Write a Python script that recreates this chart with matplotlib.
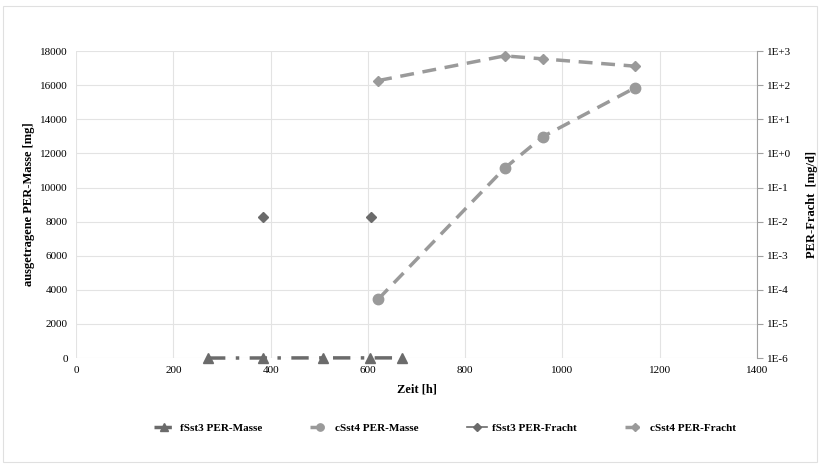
import matplotlib.pyplot as plt
import matplotlib.patches as patches
import numpy as np

plt.rcParams['font.family'] = ['Liberation Serif', 'DejaVu Serif']

# Data
zeit_fSst3_masse = [271, 384, 508, 605, 671]
masse_fSst3 = [0, 5, 10, 10, 10]

zeit_cSst4 = [621, 881, 960, 1150]
masse_cSst4 = [3450, 11130, 12990, 15860]

zeit_fSst3_fracht = [384, 500, 606]
fracht_fSst3 = [0.014, np.nan, 0.014]

fracht_cSst4 = [137, 727, 593, 362]

dark = '#6b6b6b'
light = '#9a9a9a'
grid_c = '#e3e3e3'

fig = plt.figure(figsize=(8.2, 4.65), dpi=100)
ax = fig.add_axes([0.093, 0.230, 0.830, 0.660])
ax2 = ax.twinx()

# border around the chart area
fig.patches.append(patches.Rectangle((0.004, 0.006), 0.992, 0.982, transform=fig.transFigure,
                                     fill=False, edgecolor='#e0e0e0', linewidth=0.8))

ax.plot(zeit_fSst3_masse, masse_fSst3, color=dark, linestyle=(0, (5, 3, 1, 3)), linewidth=2.5,
        marker='^', markersize=7.5, label='fSst3 PER-Masse', zorder=3, clip_on=False)
ax.plot(zeit_cSst4, masse_cSst4, color=light, linestyle=(0, (4, 2.5)), linewidth=2.5,
        marker='o', markersize=7.5, label='cSst4 PER-Masse', zorder=3, clip_on=False)
ax2.plot(zeit_fSst3_fracht, fracht_fSst3, color=dark, linestyle='-', linewidth=1.2,
         marker='D', markersize=5.5, label='fSst3 PER-Fracht', clip_on=False)
ax2.plot(zeit_cSst4, fracht_cSst4, color=light, linestyle=(0, (4, 2.5)), linewidth=2.5,
         marker='D', markersize=5.5, label='cSst4 PER-Fracht', clip_on=False)

ax.set_xlim(0, 1400)
ax.set_ylim(0, 18000)
ax.set_xticks(np.arange(0, 1401, 200))
ax.set_yticks(np.arange(0, 18001, 2000))
ax.grid(color=grid_c, linewidth=0.8)
ax.set_axisbelow(True)
for s in ax.spines.values():
    s.set_visible(False)
ax.tick_params(axis='both', length=0, labelsize=8, pad=6)

ax2.set_yscale('log')
ax2.set_ylim(1e-6, 1e3)
ticks = [10.0 ** k for k in range(-6, 4)]
ax2.set_yticks(ticks)
ax2.set_yticklabels(['1E-6', '1E-5', '1E-4', '1E-3', '1E-2', '1E-1', '1E+0', '1E+1', '1E+2', '1E+3'])
ax2.minorticks_off()
for name, s in ax2.spines.items():
    s.set_visible(name == 'right')
ax2.spines['right'].set_color('#a0a0a0')
ax2.tick_params(axis='y', length=4, color='#a0a0a0', labelsize=8, pad=3)

ax.set_xlabel('Zeit [h]', fontsize=9, fontweight='bold', labelpad=6)
ax.set_ylabel('ausgetragene PER-Masse [mg]', fontsize=9, fontweight='bold', labelpad=4)
ax2.set_ylabel('PER-Fracht  [mg/d]', fontsize=9, fontweight='bold', labelpad=11)

h1, l1 = ax.get_legend_handles_labels()
h2, l2 = ax2.get_legend_handles_labels()
fig.legend(h1 + h2, l1 + l2, loc='center', bbox_to_anchor=(0.543, 0.08), ncol=4, frameon=False,
           prop={'weight': 'bold', 'size': 8}, handlelength=1.8, handletextpad=0.5,
           columnspacing=4.3, markerscale=0.7)

plt.savefig('out.png', dpi=100)
